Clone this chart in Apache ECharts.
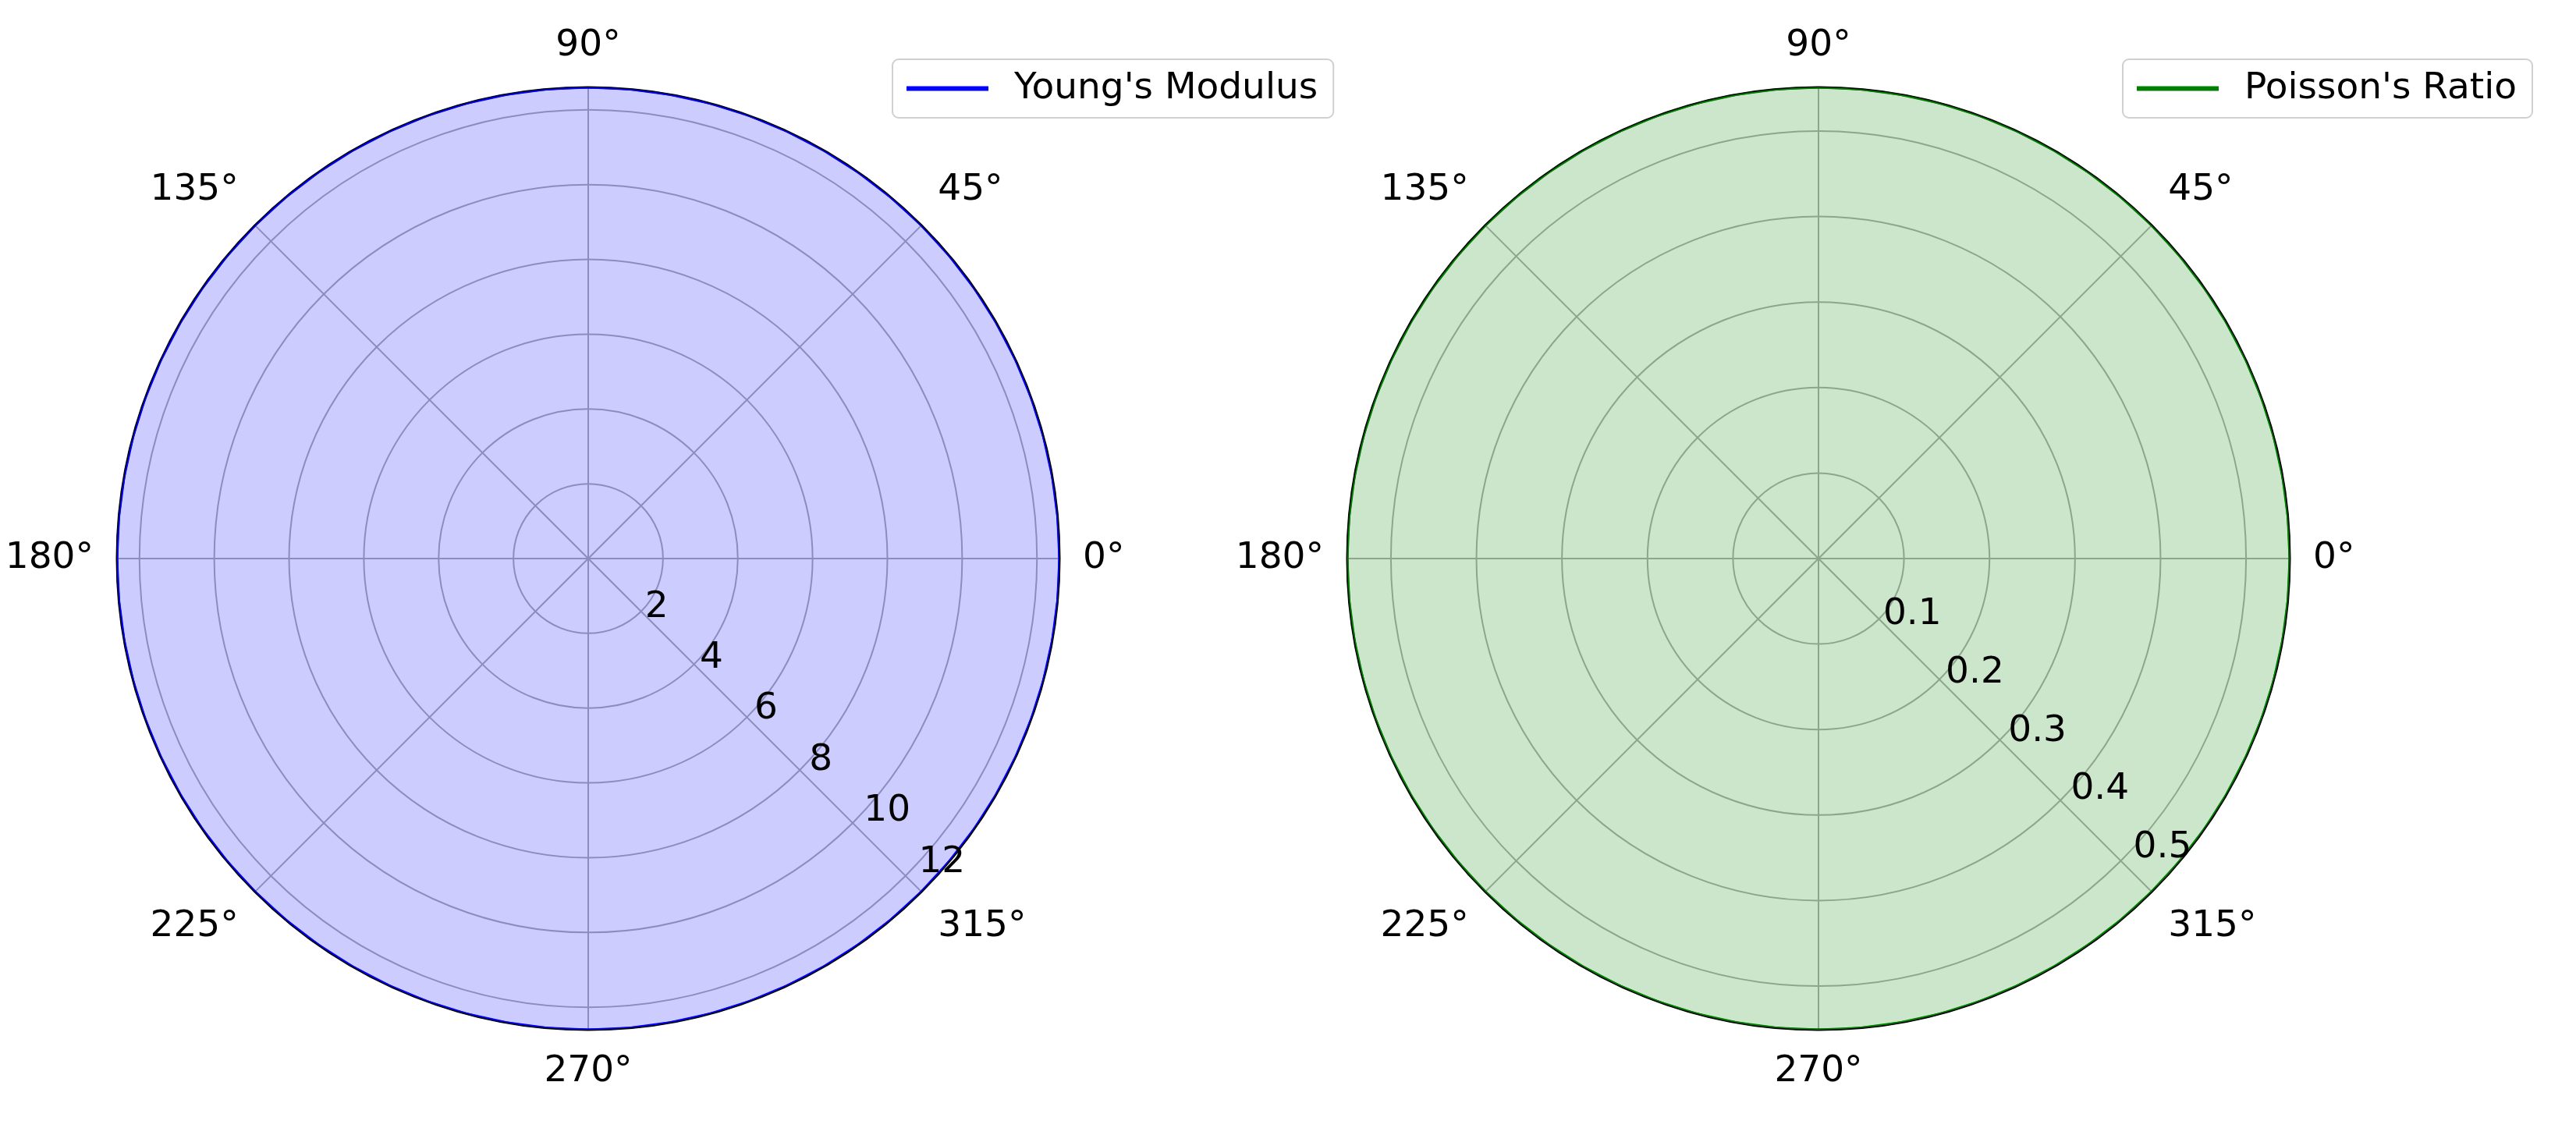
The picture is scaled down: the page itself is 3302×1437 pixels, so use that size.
<!DOCTYPE html>
<html><head><meta charset="utf-8">
<script src="https://cdn.jsdelivr.net/npm/echarts@6/dist/echarts.min.js"></script>
<style>html,body{margin:0;padding:0;background:#fff}#c{width:3302px;height:1437px}</style>
</head><body><div id="c"></div>
<script>
const angles = [0,5,10,15,20,25,30,35,40,45,50,55,60,65,70,75,80,85,90,95,100,105,110,115,120,125,130,135,140,145,150,155,160,165,170,175,180,185,190,195,200,205,210,215,220,225,230,235,240,245,250,255,260,265,270,275,280,285,290,295,300,305,310,315,320,325,330,335,340,345,350,355,360];
const youngs = [12.6,12.6,12.6,12.6,12.6,12.6,12.6,12.6,12.6,12.6,12.6,12.6,12.6,12.6,12.6,12.6,12.6,12.6,12.6,12.6,12.6,12.6,12.6,12.6,12.6,12.6,12.6,12.6,12.6,12.6,12.6,12.6,12.6,12.6,12.6,12.6,12.6,12.6,12.6,12.6,12.6,12.6,12.6,12.6,12.6,12.6,12.6,12.6,12.6,12.6,12.6,12.6,12.6,12.6,12.6,12.6,12.6,12.6,12.6,12.6,12.6,12.6,12.6,12.6,12.6,12.6,12.6,12.6,12.6,12.6,12.6,12.6,12.6];
const poisson = [0.551,0.551,0.551,0.551,0.551,0.551,0.551,0.551,0.551,0.551,0.551,0.551,0.551,0.551,0.551,0.551,0.551,0.551,0.551,0.551,0.551,0.551,0.551,0.551,0.551,0.551,0.551,0.551,0.551,0.551,0.551,0.551,0.551,0.551,0.551,0.551,0.551,0.551,0.551,0.551,0.551,0.551,0.551,0.551,0.551,0.551,0.551,0.551,0.551,0.551,0.551,0.551,0.551,0.551,0.551,0.551,0.551,0.551,0.551,0.551,0.551,0.551,0.551,0.551,0.551,0.551,0.551,0.551,0.551,0.551,0.551,0.551,0.551];
const seriesNames = ["Young's Modulus", "Poisson's Ratio"];
const radialMax = [12.6, 0.551];
const radialStep = [2, 0.1];

const FONT = 'DejaVu Sans';
const FS = 47;
const centers = [[754,716],[2331,716]];
const R = 604;
const polar = [], angleAxis = [], radiusAxis = [];
centers.forEach((c, i) => {
  polar.push({center: c, radius: R});
  angleAxis.push({polarIndex: 2*i, type:'value', min:0, max:360, interval:45, startAngle:0, clockwise:false,
    axisLine:{show:true, lineStyle:{color:'#000', width:3}}, axisTick:{show:false},
    axisLabel:{show:true, margin:30, fontFamily:FONT, fontSize:FS, color:'#000',
      formatter: v => v >= 360 ? '' : v + '°'},
    splitLine:{show:true, lineStyle:{color:'#b0b0b0', width:2}}});
  const step = radialStep[i];
  radiusAxis.push({polarIndex: 2*i, type:'value', min:0, max:radialMax[i], interval:step,
    axisLine:{show:false}, axisTick:{show:false}, axisLabel:{show:false},
    splitLine:{show:true, lineStyle:{color:'#b0b0b0', width:2}}});
  polar.push({center: c, radius: R});
  angleAxis.push({polarIndex: 2*i+1, type:'value', min:0, max:360, startAngle:-43, clockwise:false, show:false});
  radiusAxis.push({polarIndex: 2*i+1, type:'value', min:0, max:radialMax[i], interval:step, z:10,
    axisLine:{show:false}, axisTick:{show:false}, splitLine:{show:false},
    axisLabel:{show:true, fontFamily:FONT, fontSize:FS, color:'#000', margin:4, rotate:0,
      formatter: v => {
        const k = v / step;
        if (v <= 0 || Math.abs(k - Math.round(k)) > 1e-6) return '';
        return step < 1 ? v.toFixed(1) : String(Math.round(v));
      }}});
});

const colors = ['#0000ff', '#008000'];
const fills = ['rgba(0,0,255,0.2)', 'rgba(0,128,0,0.2)'];
const vals = [youngs, poisson];
const series = vals.map((arr, i) => ({
  name: seriesNames[i], type:'line', coordinateSystem:'polar', polarIndex: 2*i,
  data: arr.map((r, j) => [r, angles[j]]), showSymbol:false, z:1,
  lineStyle:{color: colors[i], width:3}, itemStyle:{color: colors[i]},
  areaStyle:{color: fills[i], opacity:1, origin:'start'}
}));

const legendPos = [[1144,76],[2721,76]];
const legend = seriesNames.map((n, i) => ({
  data:[{name:n, icon:'rect'}], left: legendPos[i][0], top: legendPos[i][1],
  itemWidth: 105, itemHeight: 6, itemGap: 20,
  textStyle:{fontFamily:FONT, fontSize:FS, color:'#000', padding:[0,0,0,28]},
  backgroundColor:'#fff', borderColor:'#d0d0d0', borderWidth:2, borderRadius:8,
  padding:[14,20,14,18]
}));

const chart = echarts.init(document.getElementById('c'));
chart.setOption({animation:false, backgroundColor:'#fff', polar, angleAxis, radiusAxis, series, legend});
</script></body></html>
